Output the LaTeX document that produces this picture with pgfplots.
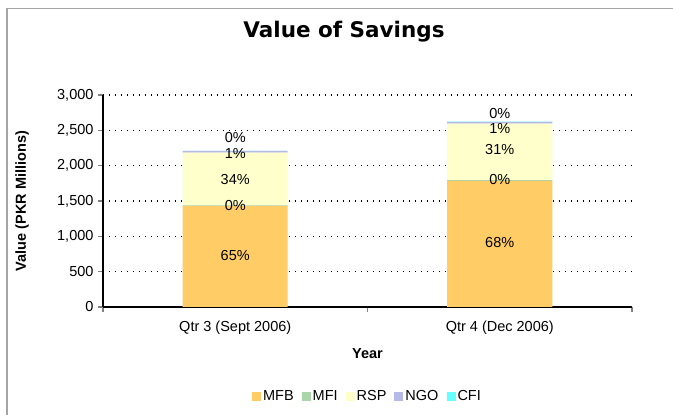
\documentclass[border=0pt]{standalone}
\usepackage{fontspec}
\setmainfont{Liberation Sans}
\newfontfamily\verdana{DejaVu Sans}
\usepackage{pgfplots}
\pgfplotsset{compat=1.18}
\definecolor{cMFB}{RGB}{255,204,102}
\definecolor{cMFI}{RGB}{170,212,170}
\definecolor{cRSP}{RGB}{255,255,204}
\definecolor{cNGO}{RGB}{180,185,230}
\definecolor{cCFI}{RGB}{102,255,255}
\definecolor{frame}{RGB}{165,165,165}
\begin{document}
\begin{tikzpicture}[x=1pt,y=1pt]
\useasboundingbox (0,0) rectangle (673,415);
\draw[frame, line width=1.5pt] (7,0) -- (7,406.5) -- (673,406.5);
\node[font=\verdana\bfseries\fontsize{21.5}{24}\selectfont] at (344,383) {Value of Savings};
\begin{axis}[
  at={(103pt,108pt)}, anchor=south west,
  scale only axis, width=529pt, height=212pt,
  xmin=-0.5, xmax=1.5, ymin=0, ymax=3000,
  ybar stacked, bar width=105pt,
  axis x line*=bottom, axis y line*=left,
  axis line style={line width=1.2pt},
  xtick={0,1}, xticklabels={Qtr 3 (Sept 2006), Qtr 4 (Dec 2006)},
  major x tick style={draw=none},
  minor xtick={-0.5,0.5,1.5},
  minor x tick style={line width=1.2pt},
  minor tick length=5pt,
  ytick={0,500,...,3000},
  major y tick style={line width=1.2pt},
  major tick length=5pt,
  tick align=outside,
  ymajorgrids, grid style={black, line width=1.1pt, dash pattern=on 1.1pt off 4.9pt},
  /pgf/number format/assume math mode=true,
  /pgf/number format/1000 sep={,},
  tick label style={font=\fontsize{14.5}{16}\selectfont},
  yticklabel style={xshift=-1pt},
  xticklabel style={yshift=-5pt},
  ylabel={Value (PKR Millions)},
  ylabel style={font=\bfseries\fontsize{14.5}{16}\selectfont, at={(axis description cs:-0.153,0.5)}, anchor=center},
  xlabel={Year},
  xlabel style={font=\bfseries\fontsize{14.5}{16}\selectfont, at={(axis description cs:0.5,-0.218)}, anchor=center},
  legend style={at={(0.5,-0.42)}, anchor=center, draw=none, legend columns=5,
    font=\fontsize{14.5}{16}\selectfont, /tikz/every even column/.append style={column sep=6pt},
    inner sep=0pt},
  legend image code/.code={\fill[#1] (1pt,-4.5pt) rectangle (10pt,4.5pt);},
]
\addplot[fill=cMFB, draw=none] coordinates {(0,1430) (1,1785)};
\addplot[fill=cMFI, draw=none] coordinates {(0,8) (1,10)};
\addplot[fill=cRSP, draw=none] coordinates {(0,745) (1,800)};
\addplot[fill=cNGO, draw=none] coordinates {(0,25) (1,26)};
\addplot[fill=cCFI, draw=none] coordinates {(0,2) (1,2)};
\legend{MFB,MFI,RSP,NGO,CFI}
\end{axis}
\begin{axis}[
  at={(103pt,108pt)}, anchor=south west,
  scale only axis, width=529pt, height=212pt,
  xmin=-0.5, xmax=1.5, ymin=0, ymax=3000,
  hide axis, clip=false,
  nodes near coords, point meta=explicit symbolic,
  every node near coord/.append style={anchor=center, font=\fontsize{14.5}{16}\selectfont, text=black},
]
\addplot[draw=none, mark=none] coordinates {(0,722)[65\%] (0,1443)[0\%] (0,1797)[34\%] (0,2165)[1\%] (0,2405)[0\%]};
\addplot[draw=none, mark=none] coordinates {(1,906)[68\%] (1,1797)[0\%] (1,2222)[31\%] (1,2530)[1\%] (1,2745)[0\%]};
\end{axis}
\end{tikzpicture}
\end{document}
